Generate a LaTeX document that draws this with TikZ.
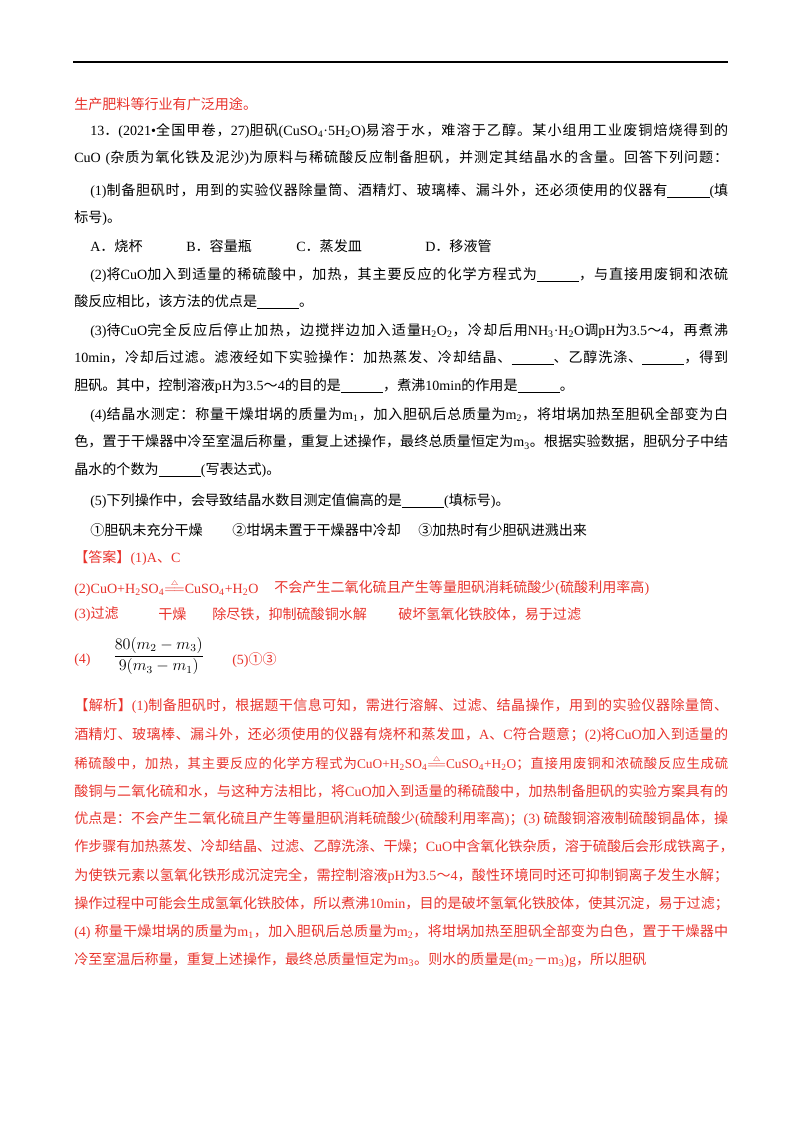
\documentclass[tikz,border=0pt]{standalone}
\usepackage{fontspec}
\setmainfont{Liberation Serif}
\newfontfamily\cjk{Noto Sans CJK SC}
\XeTeXinterchartokenstate=1
\newXeTeXintercharclass\CJKcls
\count255="3000 \loop \XeTeXcharclass\count255=\CJKcls \ifnum\count255<"9FFF \advance\count255 1 \repeat
\count255="FF00 \loop \XeTeXcharclass\count255=\CJKcls \ifnum\count255<"FFEF \advance\count255 1 \repeat
\count255="2460 \loop \XeTeXcharclass\count255=\CJKcls \ifnum\count255<"24FF \advance\count255 1 \repeat
\XeTeXinterchartoks 0 \CJKcls = {\cjk}
\XeTeXinterchartoks 4095 \CJKcls = {\cjk}
\XeTeXinterchartoks \CJKcls 0 = {\rmfamily}
\XeTeXinterchartoks 4095 0 = {\rmfamily}
\XeTeXinterchartoks \CJKcls \CJKcls = {\hskip0pt plus 1pt\relax}
\definecolor{ansred}{HTML}{E8332C}
\newcommand\sbs[1]{\textsubscript{#1}}
\newcommand\heat{$\stackrel{\scriptscriptstyle\triangle}{=\!=}$}
\newcommand\fl[3]{\node[anchor=west,inner sep=0pt] at (74,#1) {\makebox[654\pxu][s]{#2#3}};}
\newcommand\il[3]{\node[anchor=west,inner sep=0pt] at (90,#1) {\makebox[638\pxu][s]{#2#3}};}
\newcommand\pl[3]{\node[anchor=west,inner sep=0pt] at (#1,#2) {#3};}
\newlength\pxu \setlength\pxu{0.02625cm}
\begin{document}
\begin{tikzpicture}[x=0.02625cm,y=-0.02625cm,every node/.style={font=\fontsize{10.5pt}{12pt}\selectfont}]
\useasboundingbox (0,0) rectangle (800,1132);
\draw[line width=0.8pt] (73,62) -- (728,62);
\begin{scope}[every node/.append style={text=ansred}]
\pl{74}{104}{生产肥料等行业有广泛用途。}
\end{scope}
\il{131}{}{13．(2021•全国甲卷，27)胆矾(CuSO\sbs{4}·5H\sbs{2}O)易溶于水，难溶于乙醇。某小组用工业废铜焙烧得到的}
\fl{158}{}{CuO (杂质为氧化铁及泥沙)为原料与稀硫酸反应制备胆矾，并测定其结晶水的含量。回答下列问题：}
\il{191}{}{(1)制备胆矾时，用到的实验仪器除量筒、酒精灯、玻璃棒、漏斗外，还必须使用的仪器有\underline{\hspace{3em}}(填}
\pl{74}{218}{标号)。}
\pl{90}{246}{A．烧杯}
\pl{186}{246}{B．容量瓶}
\pl{296}{246}{C．蒸发皿}
\pl{425}{246}{D．移液管}
\il{275}{}{(2)将CuO加入到适量的稀硫酸中，加热，其主要反应的化学方程式为\underline{\hspace{3em}}，与直接用废铜和浓硫}
\pl{74}{302}{酸反应相比，该方法的优点是\underline{\hspace{3em}}。}
\il{331}{}{(3)待CuO完全反应后停止加热，边搅拌边加入适量H\sbs{2}O\sbs{2}，冷却后用NH\sbs{3}·H\sbs{2}O调pH为3.5～4，再煮沸}
\fl{358}{}{10min，冷却后过滤。滤液经如下实验操作：加热蒸发、冷却结晶、\underline{\hspace{3em}}、乙醇洗涤、\underline{\hspace{3em}}，得到}
\pl{74}{386}{胆矾。其中，控制溶液pH为3.5～4的目的是\underline{\hspace{3em}}，煮沸10min的作用是\underline{\hspace{3em}}。}
\il{415}{}{(4)结晶水测定：称量干燥坩埚的质量为m\sbs{1}，加入胆矾后总质量为m\sbs{2}，将坩埚加热至胆矾全部变为白}
\fl{442}{}{色，置于干燥器中冷至室温后称量，重复上述操作，最终总质量恒定为m\sbs{3}。根据实验数据，胆矾分子中结}
\pl{74}{470}{晶水的个数为\underline{\hspace{3em}}(写表达式)。}
\pl{90}{501}{(5)下列操作中，会导致结晶水数目测定值偏高的是\underline{\hspace{3em}}(填标号)。}
\pl{90}{530}{①胆矾未充分干燥}
\pl{232}{530}{②坩埚未置于干燥器中冷却}
\pl{418}{530}{③加热时有少胆矾进溅出来}
\begin{scope}[every node/.append style={text=ansred}]
\pl{74}{558}{【答案】(1)A、C}
\pl{74}{588}{(2)CuO+H\sbs{2}SO\sbs{4}\heat CuSO\sbs{4}+H\sbs{2}O}
\pl{274}{588}{不会产生二氧化硫且产生等量胆矾消耗硫酸少(硫酸利用率高)}
\pl{74}{614}{(3)过滤}
\pl{158}{614}{干燥}
\pl{212}{614}{除尽铁，抑制硫酸铜水解}
\pl{398}{614}{破坏氢氧化铁胶体，易于过滤}
\pl{74}{660}{(4)}
\node[anchor=west,inner sep=0pt,text=black,font=\fontsize{12pt}{14pt}\selectfont] (frac) at (113,656) {$\displaystyle\frac{80(m_2-m_3)}{9(m_3-m_1)}$};
\pl{232}{660}{(5)①③}
\fl{706}{}{【解析】(1)制备胆矾时，根据题干信息可知，需进行溶解、过滤、结晶操作，用到的实验仪器除量筒、}
\fl{735}{}{酒精灯、玻璃棒、漏斗外，还必须使用的仪器有烧杯和蒸发皿，A、C符合题意；(2)将CuO加入到适量的}
\node[anchor=west,inner sep=0pt,font=\fontsize{10pt}{12pt}\selectfont] at (74,763) {\makebox[654\pxu][s]{稀硫酸中，加热，其主要反应的化学方程式为CuO+H\sbs{2}SO\sbs{4}\heat CuSO\sbs{4}+H\sbs{2}O；直接用废铜和浓硫酸反应生成硫}};
\fl{791}{}{酸铜与二氧化硫和水，与这种方法相比，将CuO加入到适量的稀硫酸中，加热制备胆矾的实验方案具有的}
\fl{819}{}{优点是：不会产生二氧化硫且产生等量胆矾消耗硫酸少(硫酸利用率高)；(3) 硫酸铜溶液制硫酸铜晶体，操}
\fl{847}{}{作步骤有加热蒸发、冷却结晶、过滤、乙醇洗涤、干燥；CuO中含氧化铁杂质，溶于硫酸后会形成铁离子，}
\fl{876}{}{为使铁元素以氢氧化铁形成沉淀完全，需控制溶液pH为3.5～4，酸性环境同时还可抑制铜离子发生水解；}
\fl{904}{}{操作过程中可能会生成氢氧化铁胶体，所以煮沸10min，目的是破坏氢氧化铁胶体，使其沉淀，易于过滤；}
\fl{932}{}{(4) 称量干燥坩埚的质量为m\sbs{1}，加入胆矾后总质量为m\sbs{2}，将坩埚加热至胆矾全部变为白色，置于干燥器中}
\pl{74}{960}{冷至室温后称量，重复上述操作，最终总质量恒定为m\sbs{3}。则水的质量是(m\sbs{2}－m\sbs{3})g，所以胆矾}
\end{scope}
\end{tikzpicture}
\end{document}
